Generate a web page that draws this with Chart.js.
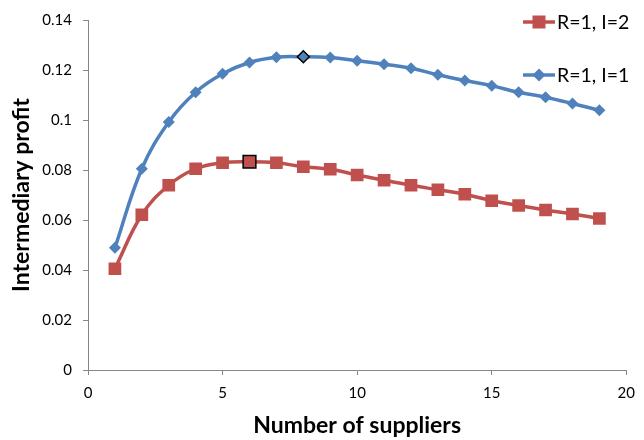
<!DOCTYPE html>
<html><head><meta charset="utf-8">
<script src="https://cdn.jsdelivr.net/npm/chart.js@4"></script>
<style>html,body{margin:0;padding:0;background:#fff}#wrap{width:644px;height:440px}</style>
</head><body><div id="wrap"><canvas id="c" width="644" height="440"></canvas></div>
<script>
const suppliers = [1,2,3,4,5,6,7,8,9,10,11,12,13,14,15,16,17,18,19];
const profitR1I2 = [0.0405,0.0621,0.0739,0.0805,0.0829,0.0833,0.0829,0.0813,0.0803,0.0780,0.0759,0.0739,0.0721,0.0703,0.0677,0.0658,0.0640,0.0624,0.0606];
const profitR1I1 = [0.0489,0.0805,0.0992,0.1111,0.1185,0.1230,0.1251,0.1253,0.1250,0.1237,0.1223,0.1207,0.1181,0.1158,0.1137,0.1111,0.1091,0.1066,0.1039];
const seriesLabels = ['R=1, I=2','R=1, I=1'];
const xTicks = [0,5,10,15,20];
const yTicks = [0,0.02,0.04,0.06,0.08,0.1,0.12,0.14];
const highlightR1I2 = 6, highlightR1I1 = 8;

const RED = '#C0504D', BLUE = '#4F81BD';
const FONT = 'Lato, "Noto Sans", sans-serif';
const pts = (ys) => suppliers.map((x,i)=>({x, y: ys[i]}));

const legendPlugin = {
  id: 'customLegend',
  afterDraw(chart) {
    const ctx = chart.ctx;
    const items = [
      {label: seriesLabels[0], color: RED, style: 'rect', y: 22},
      {label: seriesLabels[1], color: BLUE, style: 'rectRot', y: 75}
    ];
    ctx.save();
    items.forEach(it => {
      ctx.strokeStyle = it.color; ctx.lineWidth = 3.5;
      ctx.beginPath(); ctx.moveTo(523, it.y); ctx.lineTo(555, it.y); ctx.stroke();
      ctx.fillStyle = it.color;
      if (it.style === 'rect') { ctx.fillRect(532.5, it.y-6.5, 13, 13); }
      else { ctx.beginPath(); ctx.moveTo(539, it.y-6.5); ctx.lineTo(545.5, it.y); ctx.lineTo(539, it.y+6.5); ctx.lineTo(532.5, it.y); ctx.closePath(); ctx.fill(); }
      ctx.fillStyle = '#000'; ctx.font = '19.5px ' + FONT; ctx.textBaseline = 'middle'; ctx.textAlign = 'left';
      ctx.fillText(it.label, 557, it.y + 1);
    });
    ctx.restore();
  }
};

new Chart(document.getElementById('c'), {
  type: 'line',
  data: {
    datasets: [
      {label: seriesLabels[0], data: pts(profitR1I2), borderColor: RED, backgroundColor: RED, borderWidth: 3.5,
       pointStyle: 'rect', pointRadius: 9, pointHoverRadius: 9, tension: 0.4,
       pointBorderColor: suppliers.map(s => s === highlightR1I2 ? '#000' : RED),
       pointBorderWidth: suppliers.map(s => s === highlightR1I2 ? 1.5 : 0)},
      {label: seriesLabels[1], data: pts(profitR1I1), borderColor: BLUE, backgroundColor: BLUE, borderWidth: 3.5,
       pointStyle: 'rectRot', pointRadius: 6, pointHoverRadius: 6, tension: 0.4,
       pointBorderColor: suppliers.map(s => s === highlightR1I1 ? '#000' : BLUE),
       pointBorderWidth: suppliers.map(s => s === highlightR1I1 ? 1.5 : 0)}
    ]
  },
  options: {
    responsive: false, animation: false, devicePixelRatio: 1,
    layout: {padding: {top: 18, right: 11, left: 0, bottom: 0}},
    plugins: {legend: {display: false}, tooltip: {enabled: false}},
    scales: {
      x: {type: 'linear', min: 0, max: 20,
          afterBuildTicks: s => { s.ticks = xTicks.map(v => ({value: v})); },
          afterFit: s => { s.height = 70; },
          grid: {drawOnChartArea: false, tickLength: 5, color: '#868686'},
          border: {color: '#868686', width: 1},
          ticks: {color: '#000', font: {family: FONT, size: 15}, padding: 9, maxRotation: 0},
          title: {display: true, text: 'Number of suppliers', color: '#000', font: {family: FONT, size: 23, weight: 'bold'}, padding: {top: 4, bottom: 1}}},
      y: {min: 0, max: 0.14,
          afterBuildTicks: s => { s.ticks = yTicks.map(v => ({value: v})); },
          afterFit: s => { s.width = 88; },
          grid: {drawOnChartArea: false, tickLength: 5, color: '#868686'},
          border: {color: '#868686', width: 1},
          ticks: {color: '#000', font: {family: FONT, size: 15}, padding: 11,
                  callback: v => String(Number(v.toFixed(2)))},
          title: {display: true, text: 'Intermediary profit', color: '#000', font: {family: FONT, size: 23, weight: 'bold'}, padding: {top: 8, bottom: 0}}}
    }
  },
  plugins: [legendPlugin]
});
</script></body></html>
